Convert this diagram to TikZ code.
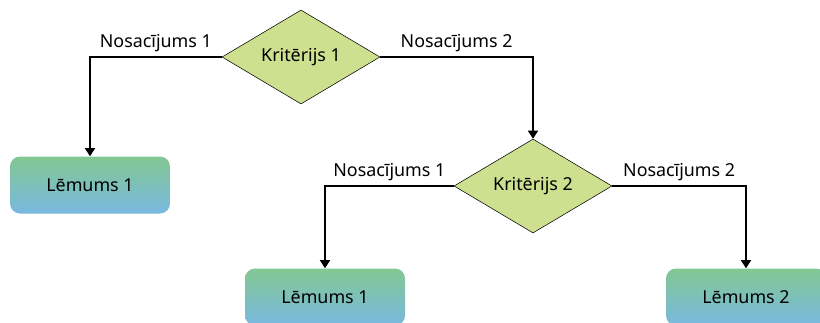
\documentclass[tikz,border=0pt]{standalone}
\usepackage{fontspec}
\setmainfont{Noto Sans}
\usepackage{tikz}
\usetikzlibrary{arrows.meta,positioning,shapes.geometric}
\definecolor{critcolor}{RGB}{205,224,143}
\definecolor{topcolor}{RGB}{130,200,146}
\definecolor{botcolor}{RGB}{121,184,224}

\begin{document}
\begin{tikzpicture}[x=0.75pt, y=-0.75pt,
    font=\fontsize{13.4}{16}\selectfont,
    crit/.style={diamond, draw, fill=critcolor, aspect=1.68, inner sep=0pt,
      minimum width=118.5pt, minimum height=70.5pt},
    result/.style={rectangle, rounded corners=7.5pt, top color=topcolor,
      bottom color=botcolor, minimum width=120pt, minimum height=42.75pt},
    link/.style={-{Triangle[width=7.5pt,length=6pt]}, line width=1pt}]
    % Frame of the picture (pixel coordinates, y down)
    \useasboundingbox (0,0) rectangle (820,322);
    \clip (0,0) rectangle (820,322);
    % Criteria
    \node[crit] (krit1) at (301,57) {Kritērijs 1};
    \node[crit] (krit2) at (533,186) {Kritērijs 2};
    % Decisions
    \node[result] (lem1) at (90,185) {Lēmums 1};
    \node[result] (lem2) at (325,297) {Lēmums 1};
    \node[result] (lem3) at (746,297) {Lēmums 2};
    % Branches with their conditions
    \draw[link] (krit1.west) -| node[pos=0.25, above] {Nosacījums 1} (lem1.north);
    \draw[link] (krit1.east) -| node[pos=0.25, above] {Nosacījums 2} (krit2.north);
    \draw[link] (krit2.west) -| node[pos=0.25, above] {Nosacījums 1} (lem2.north);
    \draw[link] (krit2.east) -| node[pos=0.25, above] {Nosacījums 2} (lem3.north);
  \end{tikzpicture}
\end{document}
